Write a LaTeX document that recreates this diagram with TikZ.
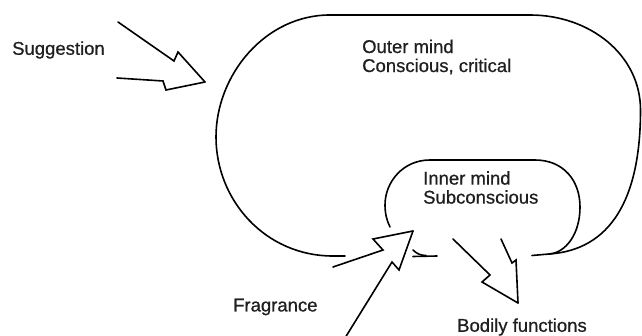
\documentclass[tikz,border=0pt]{standalone}
\usepackage{fontspec}
\setmainfont{Liberation Sans}[BoldFeatures={FakeBold=0.7}, BoldFont=Liberation Sans]
\begin{document}
\begin{tikzpicture}[x=1pt,y=-1pt,
  outline/.style={line width=1.6pt, line cap=round, line join=round},
  bolt/.style={line width=1.6pt, line cap=round, line join=miter},
  txt/.style={font=\fontsize{18.5}{19}\selectfont\bfseries, inner sep=0pt, anchor=west,
              align=left, text=black!88}]
\useasboundingbox (0,0) rectangle (642,336);

% labels
\node[txt] (sugg)  at (12,50)    {Suggestion};
\node[txt] (outer) at (362,57)   {Outer mind\\Conscious, critical};
\node[txt] (inner) at (423,187.5){Inner mind\\Subconscious};
\node[txt] (frag)  at (233,307)  {Fragrance};
\node[txt] (body)  at (457,327)  {Bodily functions};

% arrow tips
\coordinate (tipS) at (205,82);
\coordinate (tipF) at (413,231);
\coordinate (tipB) at (518,303);
% junction where the two loops meet at the bottom right
\coordinate (join) at (549,254);

% outer mind loop
\draw[outline] (345,256) -- (333,256)
  .. controls (265,256) and (216,200) .. (216,137)
  .. controls (216,75) and (265,15) .. (330,15)
  -- (530,15)
  .. controls (590,15) and (640.5,55) .. (640.5,110)
  .. controls (640.5,200) and (610,250) .. (join);
\draw[outline] (532,255.5) -- (join);

% inner mind loop
\draw[outline] (390,227)
  .. controls (387,221) and (385,214) .. (385,205)
  .. controls (385,182) and (403,160) .. (430,160)
  -- (535,160)
  .. controls (563,160) and (580,180) .. (580,207)
  .. controls (580,235) and (565,253) .. (join);
\draw[outline] (413,250) .. controls (417,254) and (421,255.5) .. (426,255.5);
\draw[outline] (413,256.5) -- (437,256);

% suggestion arrow
\draw[bolt] (118,22) -- (174,61) -- (178,52) -- (tipS);
\draw[bolt] (117,78) -- (163,81) -- (166,90) -- (tipS);

% fragrance arrow
\draw[bolt] (333,267) -- (383,250) -- (373,239) -- (tipF);
\draw[bolt] (345,338) -- (392,262) -- (399,270) -- (tipF);

% bodily functions arrow
\draw[bolt] (453,239) -- (490,275) -- (482,282) -- (tipB);
\draw[bolt] (501,239) -- (512,263) -- (516,260) -- (tipB);
\end{tikzpicture}
\end{document}
